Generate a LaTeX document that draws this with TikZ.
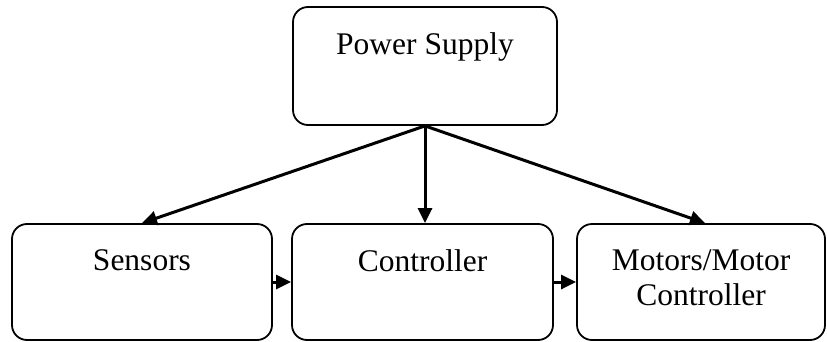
\documentclass[tikz,border=0pt]{standalone}
\usepackage{fontspec}
\setmainfont{Liberation Serif}
\usetikzlibrary{arrows.meta}
\begin{document}
\begin{tikzpicture}[x=1pt,y=1pt,
  box/.style={draw=black, line width=1.8pt, rounded corners=15pt, minimum width=#1, inner sep=0pt},
  lbl/.style={font=\fontsize{31.5}{35}\selectfont, align=center, anchor=north, inner sep=0pt},
  conn/.style={line width=3pt, -{Triangle[length=15pt,width=14pt]}}]
\useasboundingbox (0,0) rectangle (827,341);
\node[box=264pt, minimum height=118pt] (ps) at (425,275) {};
\node[box=260pt, minimum height=116pt] (sen) at (142,59) {};
\node[box=261pt, minimum height=116pt] (ctl) at (422.5,59) {};
\node[box=248pt, minimum height=116pt] (mot) at (701,59) {};
\node[lbl] (pst) at ([yshift=-26pt]ps.north) {Power Supply};
\node[lbl] (sent) at ([yshift=-26pt]sen.north) {Sensors};
\node[lbl] (ctlt) at ([yshift=-26pt]ctl.north) {Controller};
\node[lbl] (mott) at ([yshift=-26pt]mot.north) {Motors/Motor\\Controller};
\coordinate (ctop) at (ps.south |- ctl.north);
\coordinate (mtop) at ([xshift=4pt]mot.north);
\draw[conn] (ps.south) -- (sen.north);
\draw[conn] (ps.south) -- (ctop);
\draw[conn] (ps.south) -- (mtop);
\draw[conn] (sen.east) -- (ctl.west);
\draw[conn] (ctl.east) -- (mot.west);
\end{tikzpicture}
\end{document}
